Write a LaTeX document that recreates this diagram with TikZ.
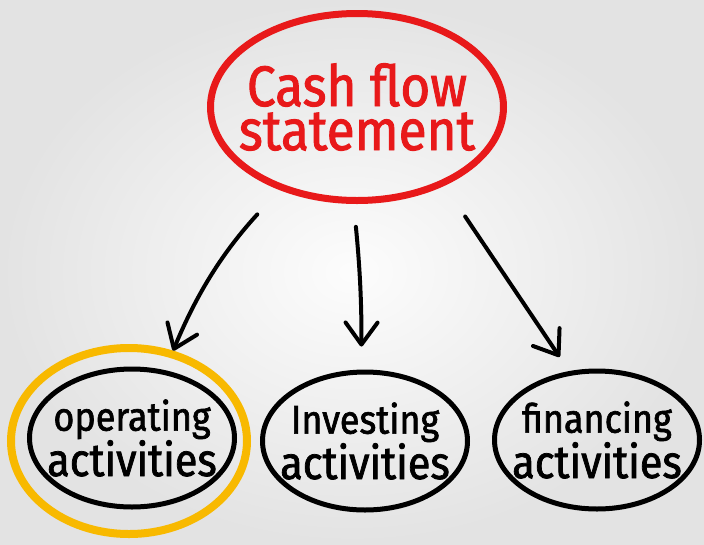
\documentclass[tikz,border=0pt]{standalone}
\usepackage{fontspec}
\newfontfamily\handfont[FakeStretch=0.9,FakeBold=1.6]{Fira Sans}
\usetikzlibrary{arrows.meta,shapes.geometric}
\definecolor{markred}{HTML}{E8191A}
\definecolor{markyellow}{HTML}{F8B900}
\tikzset{
  bubble/.style={ellipse, draw, line width=5pt, inner sep=-30pt, minimum width=205pt, minimum height=138pt, align=center, font=\handfont},
  link/.style={line width=4pt, line cap=round, -{Straight Barb[length=22pt,width=32pt,line width=4pt,round]}}
}
\newcommand{\topline}{\fontsize{40}{38}\selectfont}
\newcommand{\lowline}{\fontsize{46}{38}\selectfont}
\begin{document}
\begin{tikzpicture}[x=1pt, y=-1pt]
\useasboundingbox (0,0) rectangle (704,544);
\shade[inner color=white!99!black, outer color=white!89!black] (0,0) rectangle (704,544);
\node[bubble, draw=markred, text=markred, line width=7pt, minimum width=293pt, minimum height=187pt, font=\handfont\fontsize{57}{44}\selectfont] (cash) at (357,107) {Cash flow\\statement};
\node[bubble] (oper) at (132,438) {{\topline operating}\\{\lowline activities}};
\node[bubble] (inv) at (365,441) {{\topline Investing}\\{\lowline activities}};
\node[bubble] (fin) at (597,440) {{\topline financing}\\{\lowline activities}};
\draw[markyellow, line width=8pt] (129,441) ellipse [x radius=118, y radius=93];
\draw[link, shorten <=33pt, shorten >=21pt] (cash.227) to[bend right=10] (oper.64);
\draw[link, shorten <=23pt, shorten >=23pt] (cash.268) to[bend left=3] (inv.93);
\draw[link, shorten <=37pt, shorten >=17pt] (cash.318) -- (fin.112);
\end{tikzpicture}
\end{document}
